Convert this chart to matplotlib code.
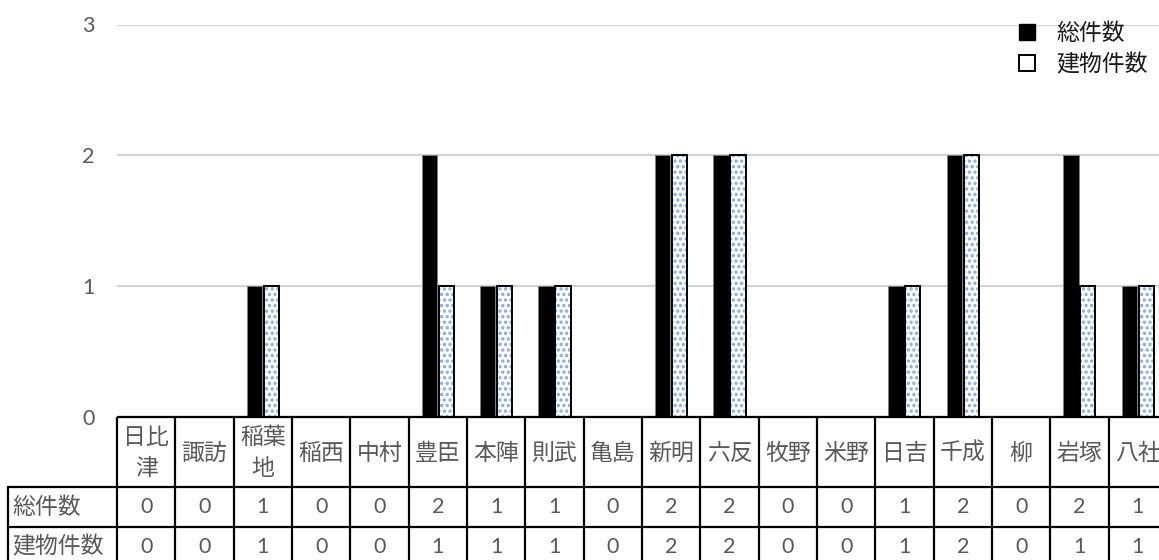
import matplotlib
matplotlib.use('Agg')
import matplotlib.pyplot as plt
from matplotlib.lines import Line2D
import numpy as np

# ---- data ----
categories = ['日比\n津', '諏訪', '稲葉\n地', '稲西', '中村', '豊臣', '本陣', '則武', '亀島',
              '新明', '六反', '牧野', '米野', '日吉', '千成', '柳', '岩塚', '八社']
total = [0, 0, 1, 0, 0, 2, 1, 1, 0, 2, 2, 0, 0, 1, 2, 0, 2, 1]
building = [0, 0, 1, 0, 0, 1, 1, 1, 0, 2, 2, 0, 0, 1, 2, 0, 1, 1]
series_names = ['総件数', '建物件数']
yticks = [0, 1, 2, 3]

plt.rcParams['font.family'] = ['Noto Sans CJK JP', 'DejaVu Sans']
plt.rcParams['hatch.linewidth'] = 1.6

W, H = 1159, 560
fig = plt.figure(figsize=(W / 100, H / 100), dpi=100)

left_px = 117
col_px = 58.33
n = len(categories)
right_px = left_px + n * col_px
top_px = 24.5
zero_px = 417

ax = fig.add_axes([left_px / W, 1 - zero_px / H, (right_px - left_px) / W, (zero_px - top_px) / H])
x = np.arange(n)
bw = 0.26
off = 0.145
ax.bar(x - off, total, bw, color='black', edgecolor='#808080', linewidth=0.6, zorder=3)
ax.bar(x + off, building, bw, color='white', edgecolor='#86a8dc', hatch='...', linewidth=0, zorder=3)
ax.bar(x + off, building, bw, fill=False, edgecolor='black', linewidth=1.4, zorder=4)

ax.set_xlim(-0.5, n - 0.5)
ax.set_ylim(0, 3)
ax.set_yticks(yticks)
ax.set_xticks([])
ax.yaxis.grid(True, color='#d4d4d4', linewidth=1.6)
ax.set_axisbelow(True)
for s in ax.spines.values():
    s.set_visible(False)
ax.tick_params(axis='y', length=0, pad=16, labelsize=15.5, labelcolor='#595959')
for lab in ax.get_yticklabels():
    lab.set_fontfamily(['Lato', 'DejaVu Sans'])

# ---- data table ----
tbl_h = 150
tax = fig.add_axes([left_px / W, 1 - (zero_px + tbl_h) / H, (right_px - left_px) / W, tbl_h / H])
tax.set_xlim(-0.5, n - 0.5)
tax.set_ylim(tbl_h, 0)
tax.axis('off')

rows_y = [0, 70, 110, 150]
label_left = -0.5 - (left_px - 8) / col_px
lw = 1.6
tax.plot([-0.5, n - 0.5], [0, 0], color='black', lw=lw, clip_on=False, solid_capstyle='butt')
for yy in rows_y[1:]:
    tax.plot([label_left, n - 0.5], [yy, yy], color='black', lw=lw, clip_on=False, solid_capstyle='butt')
for i in range(n + 1):
    tax.plot([i - 0.5, i - 0.5], [0, tbl_h], color='black', lw=lw, clip_on=False, solid_capstyle='butt')
tax.plot([label_left, label_left], [70, tbl_h], color='black', lw=lw, clip_on=False)

txt_color = '#595959'
for i, c in enumerate(categories):
    tax.text(i, 36, c, ha='center', va='center', fontsize=16.5, color=txt_color,
             linespacing=1.4, clip_on=False)
    tax.text(i, 90, str(total[i]), ha='center', va='center', fontsize=15.5, color=txt_color,
             family=['Lato', 'DejaVu Sans'], clip_on=False)
    tax.text(i, 130, str(building[i]), ha='center', va='center', fontsize=15.5, color=txt_color,
             family=['Lato', 'DejaVu Sans'], clip_on=False)
tax.text(label_left + 0.07, 90, series_names[0], ha='left', va='center', fontsize=16.5,
         color=txt_color, clip_on=False)
tax.text(label_left + 0.07, 130, series_names[1], ha='left', va='center', fontsize=16.5,
         color=txt_color, clip_on=False)

# ---- legend ----
handles = [
    Line2D([], [], marker='s', ls='none', ms=11.5, mfc='black', mec='black'),
    Line2D([], [], marker='s', ls='none', ms=11.5, mfc='white', mec='black', mew=1.4),
]
fig.legend(handles, series_names, loc='upper left', bbox_to_anchor=(1016 / W, 1 - 22 / H),
           frameon=False, fontsize=16.5, handletextpad=0.75, labelspacing=0.35,
           handlelength=1.0, borderaxespad=0, borderpad=0, labelcolor='#1a1a1a')

fig.savefig('out.png', dpi=100)
